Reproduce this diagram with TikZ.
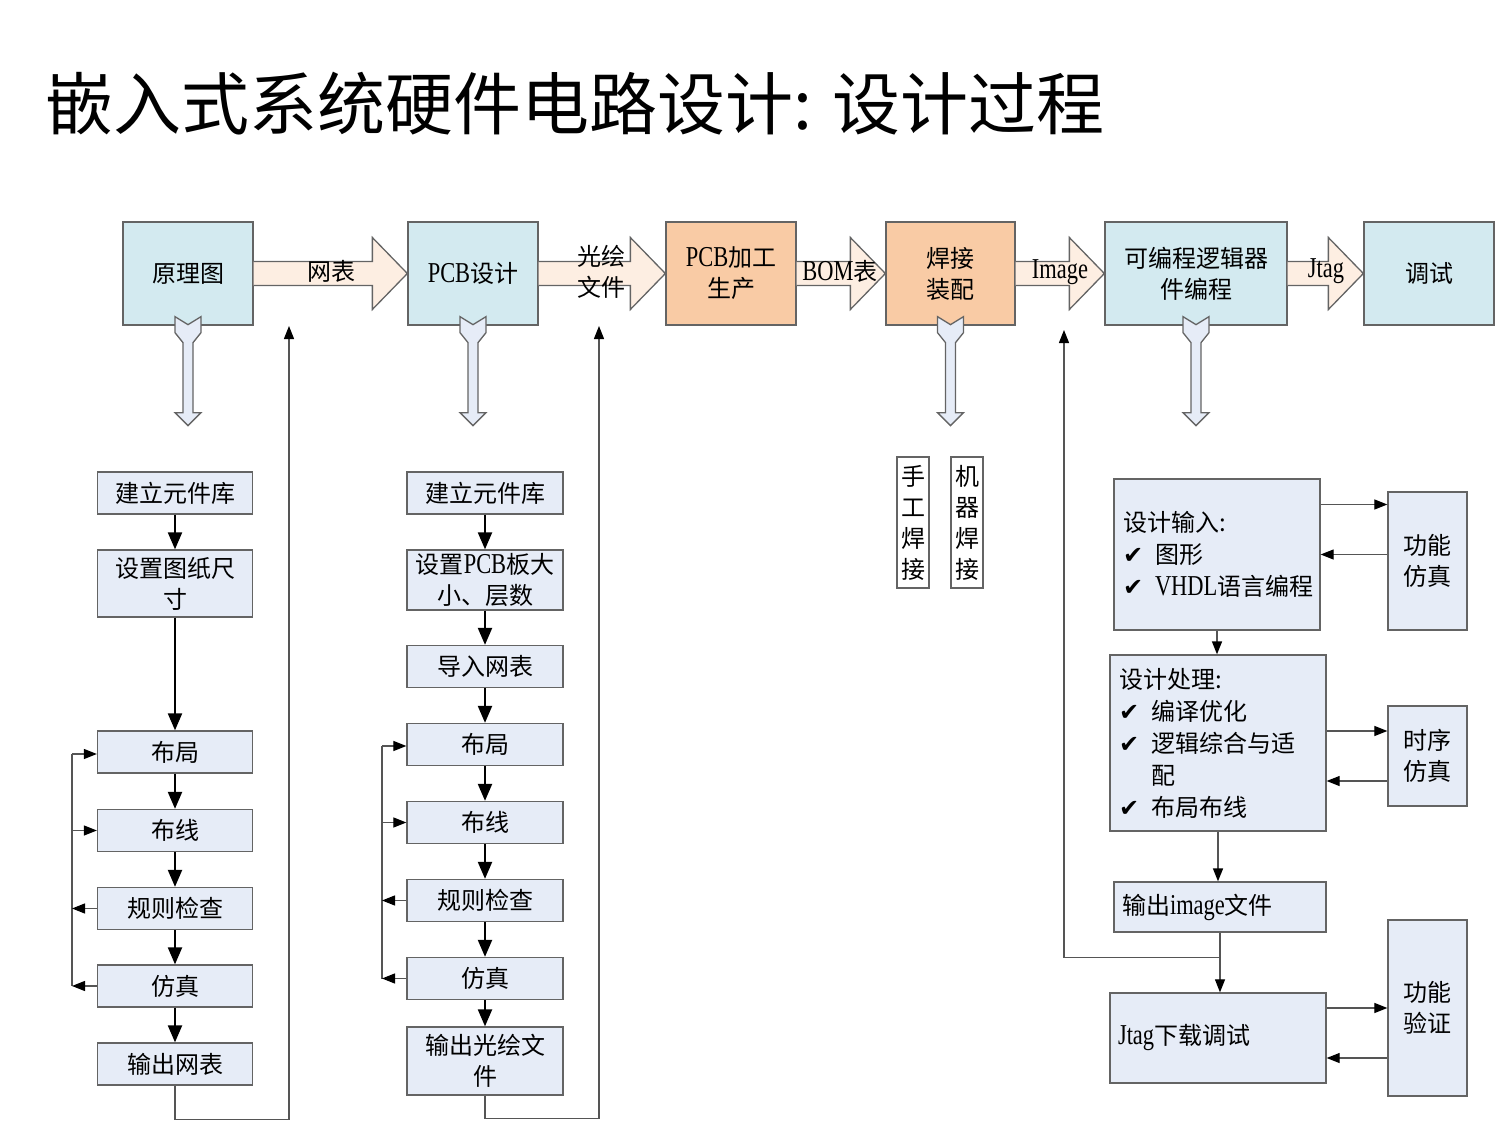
\documentclass[tikz,border=0pt]{standalone}
\usepackage{fontspec}
\setmainfont{Noto Sans CJK SC}
\newfontfamily\lat[Scale=1.2,FakeStretch=0.78]{Liberation Serif}
\newfontfamily\sym{DejaVu Sans}
\usetikzlibrary{positioning,arrows.meta,calc}
\definecolor{stageblue}{HTML}{D3EAF0}
\definecolor{stageorange}{HTML}{F9CBA5}
\definecolor{flowblue}{HTML}{E6ECF7}
\definecolor{pipefill}{HTML}{FDEEE2}
\definecolor{edgegray}{HTML}{646464}
\definecolor{linegray}{HTML}{555555}
\newcommand{\chk}{\makebox[32pt][l]{\sym ✔}}
\tikzset{
    >=Triangle,
    stage/.style={
        rectangle,
        draw=edgegray,
        line width=1.3pt,
        fill=stageblue,
        align=center,
        inner sep=0pt,
        minimum width=130pt,
        minimum height=103pt,
        font=\fontsize{24}{31}\selectfont
    },
    flow/.style={
        rectangle,
        draw=edgegray,
        line width=1.3pt,
        fill=flowblue,
        align=center,
        inner sep=0pt,
        minimum width=155pt,
        minimum height=42pt,
        font=\fontsize{24}{31}\selectfont
    },
    detail/.style={
        flow,
        align=left,
        font=\fontsize{24}{32}\selectfont
    },
    weld/.style={
        rectangle,
        draw=edgegray,
        line width=1.3pt,
        fill=white,
        align=center,
        inner sep=0pt,
        minimum width=32pt,
        minimum height=131pt,
        font=\fontsize{24}{31}\selectfont
    },
    pipe/.style={
        draw=edgegray,
        line width=1.3pt,
        fill=pipefill
    },
    drop/.style={
        draw=edgegray,
        line width=1.3pt,
        fill=flowblue
    },
    pipelabel/.style={
        align=center,
        inner sep=0pt,
        font=\fontsize{24}{31}\selectfont
    },
    main/.style={
        black,
        line width=2.2pt,
        -{Triangle[length=17pt,width=14pt]}
    },
    side/.style={
        draw=linegray,
        line width=1.2pt,
        -{Triangle[length=13pt,width=10pt,color=black]}
    },
    back/.style={
        draw=linegray,
        line width=1.2pt
    }
}

\begin{document}
\begin{tikzpicture}[x=1pt, y=-1pt]
\useasboundingbox (0,0) rectangle (1497,1137);

% Title
\node[anchor=west, inner sep=0pt, font=\fontsize{68}{68}\selectfont] (title) at (45,104)
{嵌入式系统硬件电路设计: 设计过程};

% Top row stages
\node[stage] (sch) at (188,273.5) {原理图};
\node[stage] (pcb) at (473,273.5) {{\lat PCB}设计};
\node[stage, fill=stageorange] (fab) at (731,273.5) {{\lat PCB}加工\\生产};
\node[stage, fill=stageorange, minimum width=129pt] (solder) at (950.5,273.5) {焊接\\装配};
\node[stage, minimum width=182pt] (pld) at (1196,273.5) {可编程逻辑器\\件编程};
\node[stage] (debug) at (1429,273.5) {调试};

% Block arrows between stages
\foreach \a/\b in {sch/pcb,pcb/fab,fab/solder,solder/pld,pld/debug}
    \filldraw[pipe] ($(\a.east)+(0,-12)$) -- ($(\b.west)+(-35,-12)$)
        -- ($(\b.west)+(-35,-36)$) -- (\b.west) -- ($(\b.west)+(-35,36)$)
        -- ($(\b.west)+(-35,12)$) -- ($(\a.east)+(0,12)$);

\node[pipelabel] (lNet) at (331,271) {网表};
\node[pipelabel] (lGerber) at (601,271.5) {光绘\\文件};
\node[pipelabel] (lBom) at (840,271) {{\lat BOM}表};
\node[pipelabel] (lImg) at (1060,272) {\lat Image};
\node[pipelabel] (lJtag) at (1326,271) {\lat Jtag};

% Hollow down arrows
\foreach \n in {sch,pcb,solder,pld}
    \filldraw[drop] ($(\n.south)+(-13,-9)$) -- ++(13,8) -- ++(13,-8) -- ++(0,16)
        -- ++(-8,10) -- ++(0,70) -- ++(8,0) -- ++(-13,13) -- ++(-13,-13)
        -- ++(8,0) -- ++(0,-70) -- ++(-8,-10) -- cycle;

% Schematic steps
\node[flow] (sLib) at (175,493) {建立元件库};
\node[flow, minimum height=67pt] (sSheet) at (175,583.5) {设置图纸尺\\寸};
\node[flow] (sPlace) at (175,752) {布局};
\node[flow] (sRoute) at (175,830.5) {布线};
\node[flow] (sCheck) at (175,908.5) {规则检查};
\node[flow] (sSim) at (175,986) {仿真};
\node[flow] (sOut) at (175,1064) {输出网表};

\foreach \a/\b in {sLib/sSheet,sSheet/sPlace,sPlace/sRoute,sRoute/sCheck,sCheck/sSim,sSim/sOut}
    \draw[main] (\a.south) -- (\b.north);

\coordinate (sBus) at (72,754);
\draw[back] (sBus) -- (sBus |- sSim);
\draw[side] (sBus) -- (sBus -| sPlace.west);
\draw[side] (sBus |- sRoute) -- (sRoute.west);
\draw[side] (sCheck.west) -- (sBus |- sCheck);
\draw[side] (sSim.west) -- (sBus |- sSim);

% PCB steps
\node[flow, minimum width=156pt] (pLib) at (485,493) {建立元件库};
\node[flow, minimum width=156pt, minimum height=60pt] (pSize) at (485,580) {设置{\lat PCB}板大\\小、层数};
\node[flow, minimum width=156pt] (pNet) at (485,666.5) {导入网表};
\node[flow, minimum width=156pt] (pPlace) at (485,744.5) {布局};
\node[flow, minimum width=156pt] (pRoute) at (485,822.5) {布线};
\node[flow, minimum width=156pt] (pCheck) at (485,900.5) {规则检查};
\node[flow, minimum width=156pt] (pSim) at (485,978.5) {仿真};
\node[flow, minimum width=156pt, minimum height=68pt] (pOut) at (485,1061) {输出光绘文\\件};

\foreach \a/\b in {pLib/pSize,pSize/pNet,pNet/pPlace,pPlace/pRoute,pRoute/pCheck,pCheck/pSim,pSim/pOut}
    \draw[main] (\a.south) -- (\b.north);

\coordinate (pBus) at (382,746);
\draw[back] (pBus) -- (pBus |- pSim);
\draw[side] (pBus) -- (pBus -| pPlace.west);
\draw[side] (pBus |- pRoute) -- (pRoute.west);
\draw[side] (pCheck.west) -- (pBus |- pCheck);
\draw[side] (pSim.west) -- (pBus |- pSim);

% Outputs fed back to the top row
\coordinate (netUp) at (289,326);
\coordinate (gerberUp) at (599,326);
\draw[side] (sOut.south) -- ++(0,34) -| (netUp);
\draw[side] (pOut.south) -- ++(0,23) -| (gerberUp);

% Soldering
\node[weld] (hand) at (913,522.5) {手\\工\\焊\\接};
\node[weld] (machine) at (967,522.5) {机\\器\\焊\\接};

% Programmable logic steps
\node[detail, minimum width=206pt, minimum height=151pt, text width=188pt] (dIn) at (1217,554.5)
{设计输入:\\\chk 图形\\\chk {\lat VHDL}语言编程};
\node[detail, minimum width=216pt, minimum height=176pt, text width=198pt] (dProc) at (1218,743)
{设计处理:\\\chk 编译优化\\\chk 逻辑综合与适\\\hspace*{32pt}配\\\chk 布局布线};
\node[detail, minimum width=212pt, minimum height=50pt, text width=196pt] (oImg) at (1220,907)
{输出{\lat image}文件};
\node[detail, minimum width=216pt, minimum height=90pt, text width=200pt] (jtag) at (1218,1038)
{{\lat Jtag}下载调试};

\node[flow, minimum width=79pt, minimum height=138pt] (fSim) at (1427.5,561) {功能\\仿真};
\node[flow, minimum width=79pt, minimum height=100pt] (tSim) at (1427.5,756) {时序\\仿真};
\node[flow, minimum width=79pt, minimum height=176pt] (fVer) at (1427.5,1008) {功能\\验证};

\draw[side, line width=1.5pt] (dIn.south) -- (dIn.south |- dProc.north);
\draw[side, line width=1.5pt] (dProc.south) -- (dProc.south |- oImg.north);
\draw[side] (oImg.south) -- (oImg.south |- jtag.north);

\draw[side] ([yshift=50pt]dIn.east) coordinate (t1) -- (t1 -| fSim.west);
\draw[side] (dIn.east -| fSim.west) -- (dIn.east);
\draw[side] ([yshift=12pt]dProc.east) coordinate (t2) -- (t2 -| tSim.west);
\draw[side] ([yshift=-38pt]dProc.east -| tSim.west) coordinate (t3) -- (t3 -| dProc.east);
\draw[side] ([yshift=30pt]jtag.east) coordinate (t4) -- (t4 -| fVer.west);
\draw[side] ([yshift=-20pt]jtag.east -| fVer.west) coordinate (t5) -- (t5 -| jtag.east);

% Image file goes back to programming
\coordinate (imgUp) at (1064,330);
\draw[side] ($(oImg.south)+(0,25)$) -| (imgUp);

\end{tikzpicture}
\end{document}
